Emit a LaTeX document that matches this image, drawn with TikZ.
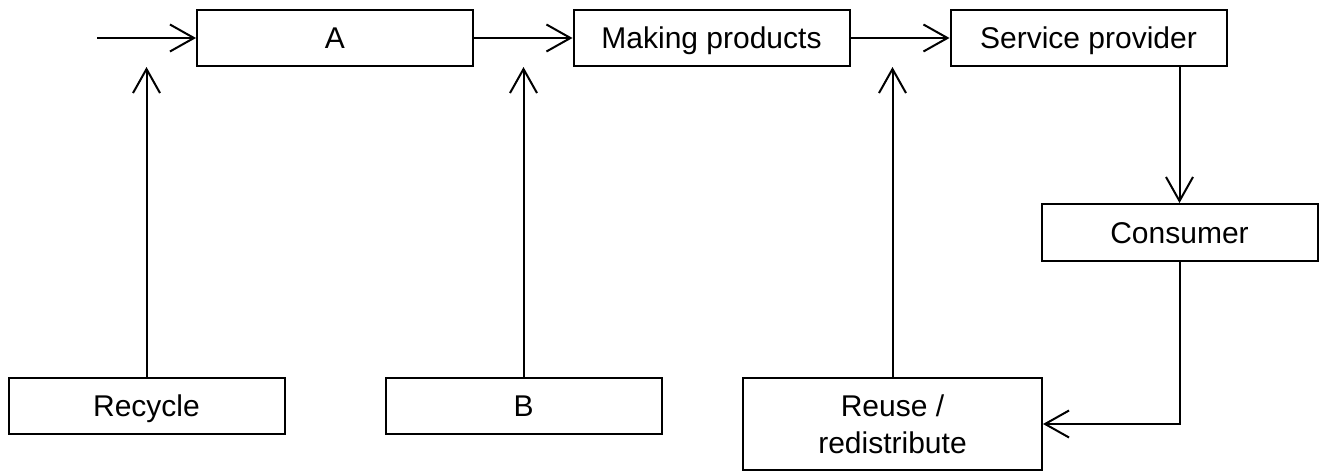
\documentclass[tikz,border=0pt]{standalone}
\usepackage{fontspec}
\setmainfont{Liberation Sans}
\usetikzlibrary{arrows.meta}
\begin{document}
\begin{tikzpicture}[>={Straight Barb[length=24bp,width=27bp]},line width=2bp,
  box/.style={draw,rectangle,inner sep=0pt,minimum height=56bp,minimum width=276bp,align=center,
    font=\fontsize{30bp}{37bp}\selectfont},
  oneline/.style={box,text height=27bp,text depth=6bp},]
\useasboundingbox (0bp,0bp) rectangle (1325bp,-471bp);
%%
  \node (A) at (335bp,-38bp) [oneline] {A};
  \node (mk) at (711.5bp,-38bp) [oneline] {Making products};
  \node (sp) at (1088.5bp,-38bp) [oneline] {Service provider};
  \node (con) at (1179.5bp,-232.5bp) [oneline,minimum height=57bp] {Consumer};
  \node (rec) at (146.5bp,-406bp) [oneline] {Recycle};
  \node (B) at (523.5bp,-406bp) [oneline] {B};
  \node (reuse) at (892.5bp,-424bp) [box,minimum width=299bp,minimum height=92bp] {Reuse /\\redistribute};
  \coordinate (in) at (97bp,-38bp);
  \draw [->] (in) -- (A);
  \draw [->] (A) -- (mk);
  \draw [->] (mk) -- (sp);
  \draw [->] (rec) -- (rec |- A.south);
  \draw [->] (B) -- (B |- A.south);
  \draw [->] (reuse) -- (reuse |- mk.south);
  \draw [->] (con |- sp.south) -- (con);
  \draw [->] (con) |- (reuse);
%
\end{tikzpicture}
\end{document}
